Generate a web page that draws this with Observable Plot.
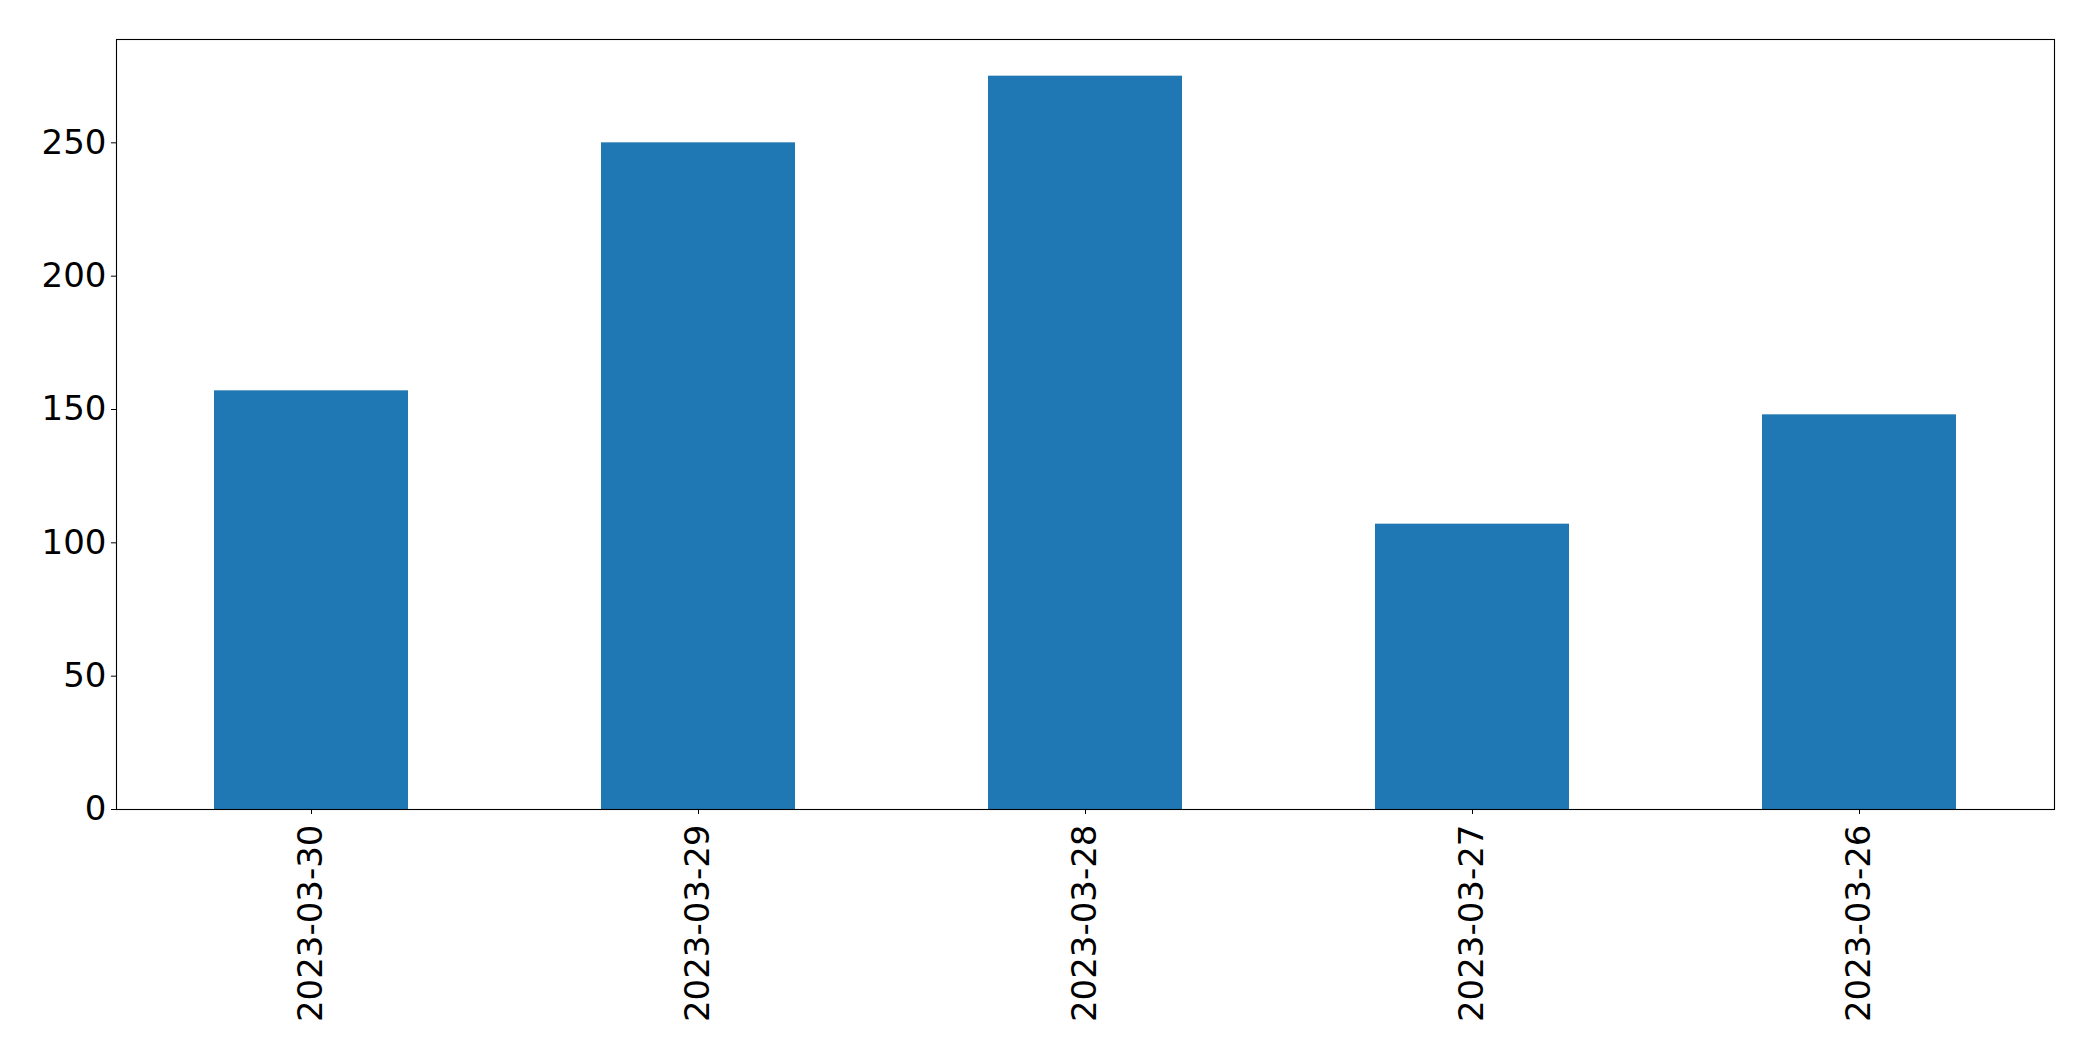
<!DOCTYPE html>
<html>
<head>
<meta charset="utf-8">
<script src="https://cdn.jsdelivr.net/npm/d3@7"></script>
<script src="https://cdn.jsdelivr.net/npm/@observablehq/plot@0.6"></script>
<style>
  html, body { margin: 0; padding: 0; background: #fff; }
  #chart svg { display: block; }
</style>
</head>
<body>
<div id="chart"></div>
<script>
const dates = ["2023-03-30", "2023-03-29", "2023-03-28", "2023-03-27", "2023-03-26"];
const counts = [157, 250, 275, 107, 148];
const yTicks = [0, 50, 100, 150, 200, 250];

const data = dates.map((d, i) => ({date: d, count: counts[i]}));

const chart = Plot.plot({
  width: 2093,
  height: 1061,
  marginLeft: 116,
  marginRight: 39,
  marginTop: 39,
  marginBottom: 252,
  style: {fontFamily: "DejaVu Sans", fontSize: "34px", color: "#000", background: "#fff"},
  x: {domain: dates, paddingInner: 0.5, paddingOuter: 0.25},
  y: {domain: [0, 288.75]},
  marks: [
    Plot.barY(data, {x: "date", y: "count", fill: "#1f77b4"}),
    Plot.frame({stroke: "#000", strokeWidth: 1.1}),
    Plot.axisY({ticks: yTicks, tickSize: 5, tickPadding: 5, label: null, fontSize: 34, stroke: "#000"}),
    Plot.axisX({tickSize: 5, tickPadding: 10, tickRotate: -90, label: null, fontSize: 34, stroke: "#000"})
  ]
});
document.getElementById("chart").appendChild(chart);
</script>
</body>
</html>
